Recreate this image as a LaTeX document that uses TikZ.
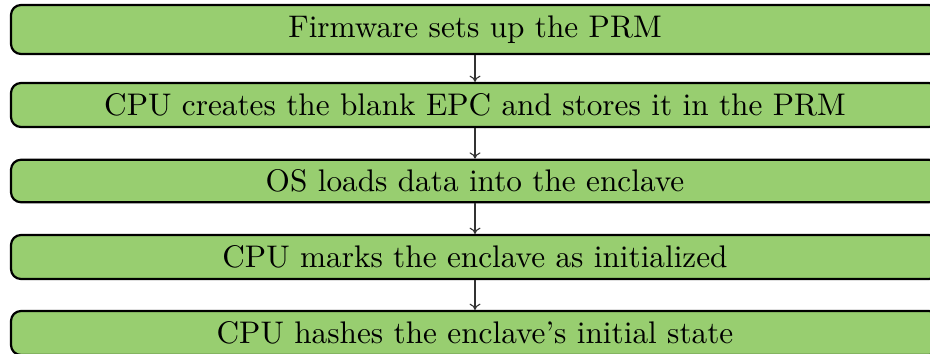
\documentclass[tikz,border=0pt]{standalone}
\usetikzlibrary{arrows.meta}
\definecolor{stepgreen}{RGB}{152,206,112}
\begin{document}
\begin{tikzpicture}[x=0.32pt,y=-0.32pt,
  stage/.style={draw=black, line width=0.7pt, fill=stepgreen,
    rounded corners=3.2pt, minimum width=296.96pt, inner sep=0pt},
  link/.style={draw=black!80, line width=0.35pt, -{To[length=2pt,width=3.5pt]}}]
\useasboundingbox (0,0) rectangle (930,353);
\clip (0,0) rectangle (930,353);
\node[stage, minimum height=15.68pt] (s1) at (475,29.5) {Firmware sets up the PRM};
\node[stage, minimum height=14.08pt] (s2) at (475,105) {CPU creates the blank EPC and stores it in the PRM};
\node[stage, minimum height=13.6pt] (s3) at (475,181) {OS loads data into the enclave};
\node[stage, minimum height=14.08pt] (s4) at (475,257) {CPU marks the enclave as initialized};
\node[stage, minimum height=14.08pt] (s5) at (475,333) {CPU hashes the enclave's initial state};
\draw[link] (s1) -- (s2);
\draw[link] (s2) -- (s3);
\draw[link] (s3) -- (s4);
\draw[link] (s4) -- (s5);
\end{tikzpicture}
\end{document}
